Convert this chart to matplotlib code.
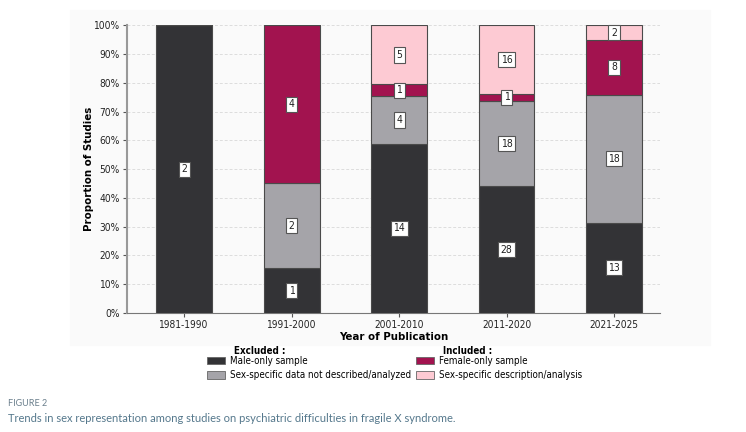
import numpy as np
import matplotlib.pyplot as plt
from matplotlib.patches import Patch

periods = ["1981-1990", "1991-2000", "2001-2010", "2011-2020", "2021-2025"]

# proportions (%)
male_pct = [100, 15.5, 58.7, 44.0, 31.4]
nodesc_pct = [0, 29.5, 16.8, 29.7, 44.5]
female_pct = [0, 55.0, 4.0, 2.6, 19.0]
sexspec_pct = [0, 0, 20.5, 23.7, 5.1]

# study counts shown in the boxes
male_n = [2, 1, 14, 28, 13]
nodesc_n = [0, 2, 4, 18, 18]
female_n = [0, 4, 1, 1, 8]
sexspec_n = [0, 0, 5, 16, 2]

series = [
    ("Male-only sample", male_pct, male_n, "#333336"),
    ("Sex-specific data not described/analyzed", nodesc_pct, nodesc_n, "#a5a4a9"),
    ("Female-only sample", female_pct, female_n, "#a2134f"),
    ("Sex-specific description/analysis", sexspec_pct, sexspec_n, "#fdcad3"),
]

plt.rcParams["font.family"] = ["DejaVu Sans"]
plt.rcParams["font.stretch"] = "condensed"
cond = dict(family="DejaVu Sans", stretch="condensed")

fig = plt.figure(figsize=(7.46, 4.32), dpi=100)
fig.patches.append(plt.Rectangle((70 / 746, 1 - 345 / 432), 640 / 746, 335 / 432,
                                 transform=fig.transFigure, color="#fafafa", zorder=-5))
ax = fig.add_axes([0.170, 0.276, 0.715, 0.665])
ax.set_facecolor("none")

x = np.arange(len(periods))
bottom = np.zeros(len(periods))
for name, pct, n, col in series:
    vals = np.array(pct) / 100
    ax.bar(x, vals, 0.52, bottom=bottom, color=col, edgecolor="#4a4a4a",
           linewidth=0.8, zorder=3)
    for i in range(len(periods)):
        if n[i] > 0:
            ax.text(x[i], bottom[i] + vals[i] / 2, str(n[i]), ha="center", va="center",
                    fontsize=7.5, color="#222", zorder=5, **cond,
                    bbox=dict(boxstyle="square,pad=0.25", fc="white", ec="#555", lw=0.8))
    bottom += vals

ax.set_xlim(-0.533, 4.43)
ax.set_ylim(0, 1)
ax.set_yticks(np.arange(0, 1.01, 0.1))
ax.set_yticklabels([f"{int(v)}%" for v in np.arange(0, 101, 10)], fontsize=7.3,
                   color="#222", **cond)
ax.set_xticks(x)
ax.set_xticklabels(periods, fontsize=7.3, color="#222", **cond)
ax.yaxis.grid(True, linestyle=(0, (3, 2)), color="#dddddd", linewidth=0.7, zorder=0)
for s in ["top", "right"]:
    ax.spines[s].set_visible(False)
ax.spines["left"].set_color("#999999")
ax.spines["left"].set_linewidth(1.5)
ax.spines["bottom"].set_color("#777777")
ax.tick_params(axis="both", length=3, color="#555", pad=2)
ax.set_ylabel("Proportion of Studies", fontsize=8.2, fontweight="bold", labelpad=0, **cond)
ax.set_xlabel("Year of Publication", fontsize=8.2, fontweight="bold", labelpad=2, **cond)

# legend in two titled columns
for j, title in enumerate(["Excluded :", "Included :"]):
    handles = [Patch(facecolor=series[2 * j + k][3], edgecolor="#666", lw=0.6)
               for k in range(2)]
    labels = [series[2 * j + k][0] for k in range(2)]
    lx = 207 / 746 if j == 0 else 416 / 746
    fig.legend(handles, labels, loc="upper left", bbox_to_anchor=(lx, 1 - 356 / 432),
               frameon=False, prop=dict(size=7, **cond), handlelength=1.8,
               handleheight=0.8, handletextpad=0.6, labelspacing=0.45,
               borderaxespad=0, borderpad=0)
    fig.text(lx + 27 / 746, 1 - 351 / 432, title, fontsize=7, fontweight="bold",
             va="center", **cond)

fig.text(8 / 746, 1 - 404 / 432, "FIGURE 2", fontsize=6.5, color="#6a7f8c", va="center",
         family=["Lato", "DejaVu Sans"])
fig.text(8 / 746, 1 - 419 / 432,
         "Trends in sex representation among studies on psychiatric difficulties in fragile X syndrome.",
         fontsize=8, color="#55788c", va="center", family=["Lato", "DejaVu Sans"])

fig.savefig("out.png", dpi=100)
